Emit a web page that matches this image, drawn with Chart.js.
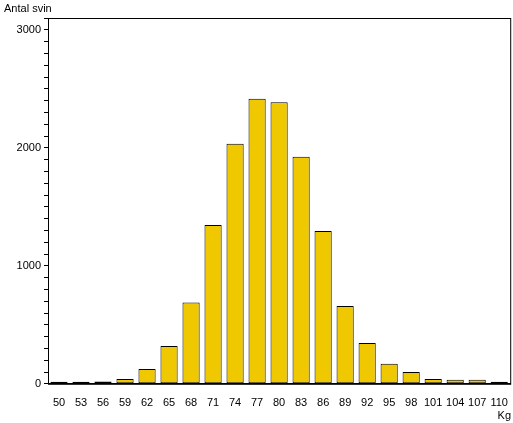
<!DOCTYPE html>
<html>
<head>
<meta charset="utf-8">
<script src="https://cdn.jsdelivr.net/npm/chart.js@4"></script>
<style>
  html, body { margin: 0; padding: 0; background: #fff; }
  #wrap { width: 513px; height: 423px; }
</style>
</head>
<body>
<div id="wrap"><canvas id="chart"></canvas></div>
<script>
const weights = ["50","53","56","59","62","65","68","71","74","77","80","83","86","89","92","95","98","101","104","107","110"];
const pigs = [8, 8, 20, 40, 125, 320, 690, 1345, 2035, 2415, 2385, 1925, 1295, 660, 345, 170, 100, 40, 35, 35, 8];

// frame + axis labels
const extras = {
  id: "extras",
  afterDraw(chart) {
    const { ctx, chartArea: a } = chart;
    ctx.save();
    ctx.strokeStyle = "#000";
    ctx.lineWidth = 1;
    ctx.strokeRect(a.left + 0.5, a.top + 0.5, a.right - a.left, a.bottom - a.top);
    ctx.fillStyle = "#000";
    ctx.font = "11px 'Liberation Sans', Arial, sans-serif";
    ctx.textBaseline = "top";
    ctx.textAlign = "left";
    ctx.fillText("Antal svin", 4, 3);
    ctx.textAlign = "right";
    ctx.fillText("Kg", 511, 410);
    ctx.restore();
  }
};

new Chart(document.getElementById("chart").getContext("2d"), {
  type: "bar",
  data: {
    labels: weights,
    datasets: [{
      data: pigs,
      backgroundColor: "#f0c800",
      borderColor: "#000",
      borderWidth: 1,
      borderSkipped: false,
      minBarLength: 2,
      categoryPercentage: 0.78,
      barPercentage: 1
    }]
  },
  options: {
    responsive: true,
    maintainAspectRatio: false,
    animation: false,
    layout: { padding: { top: 18, right: 1, bottom: 8, left: 0 } },
    plugins: { legend: { display: false }, tooltip: { enabled: false } },
    scales: {
      x: {
        grid: { display: false },
        border: { color: "#000" },
        ticks: { color: "#000", font: { size: 11, family: "'Liberation Sans', Arial" }, maxRotation: 0, autoSkip: false, padding: 5 }
      },
      y: {
        min: 0,
        max: 3100,
        afterFit(scale) { scale.width = 48; },
        grid: { drawOnChartArea: false, tickLength: 4, color: "#000" },
        border: { color: "#000" },
        ticks: {
          stepSize: 100,
          color: "#000",
          font: { size: 11, family: "'Liberation Sans', Arial" },
          autoSkip: false,
          padding: 3,
          callback: v => v % 1000 === 0 ? v : ""
        }
      }
    }
  },
  plugins: [extras]
});
</script>
</body>
</html>
